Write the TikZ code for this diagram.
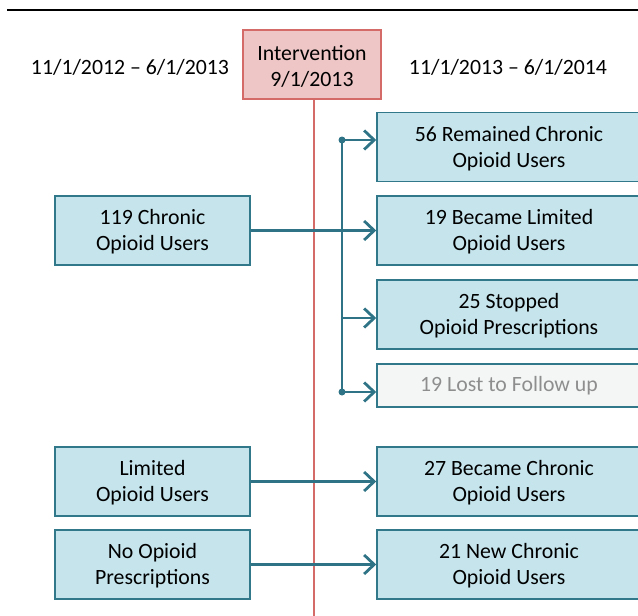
\documentclass[tikz,border=0pt]{standalone}
\usepackage{fontspec}
\setmainfont{Carlito}
\usetikzlibrary{arrows.meta}
\definecolor{boxfill}{HTML}{C5E4EC}
\definecolor{boxline}{HTML}{31798A}
\definecolor{arrowcol}{HTML}{2F7486}
\definecolor{intfill}{HTML}{EDC6C5}
\definecolor{intline}{HTML}{D46B68}
\definecolor{lostfill}{HTML}{F4F6F6}
\definecolor{losttext}{HTML}{8E8E8E}
\begin{document}
\begin{tikzpicture}[x=0.5pt, y=-0.5pt,
  every node/.style={font=\fontsize{10.9}{13}\selectfont, align=center, inner sep=0pt},
  group/.style={draw=boxline, line width=0.8pt, fill=boxfill, minimum width=97.5pt, minimum height=34.5pt},
  result/.style={group, minimum width=132pt},
  arr/.style={draw=arrowcol, line width=1.1pt, -{Straight Barb[length=5pt, width=9.5pt, line width=1.4pt]}},
  dot/.style={circle, fill=arrowcol, minimum size=3.5pt}]
\useasboundingbox (0,0) rectangle (638,616);
\clip (0,0) rectangle (638,616);
% Kopfzeile
\draw[line width=1pt] (7,10) -- (638,10);
\node (int) [draw=intline, line width=0.8pt, fill=intfill, minimum width=69pt, minimum height=34.5pt] at (312,64.5) {\strut Intervention\\9/1/2013};
\node (pre) at (130,67) {11/1/2012 -- 6/1/2013};
\node (post) at (508,67) {11/1/2013 -- 6/1/2014};
\coordinate (end) at (314,616);
\draw[intline, line width=0.8pt] (int.south -| end) -- (end);
% vorher
\node (chr) [group] at (152.5,230.5) {\strut 119 Chronic\\Opioid Users};
\node (lim) [group] at (152.5,481.5) {\strut Limited\\Opioid Users};
\node (non) [group] at (152.5,564.5) {\strut No Opioid\\Prescriptions};
% nachher
\node (rem)  [result] at (509,147)   {\strut 56 Remained Chronic\\Opioid Users};
\node (blim) [result] at (509,230.5) {\strut 19 Became Limited\\Opioid Users};
\node (stop) [result] at (509,314.5) {\strut 25 Stopped\\Opioid Prescriptions};
\node (lost) [result, fill=lostfill, text=losttext, minimum height=21.5pt] at (509,385.5) {19 Lost to Follow up};
\node (bchr) [result] at (509,481.5) {\strut 27 Became Chronic\\Opioid Users};
\node (new)  [result] at (509,564.5) {\strut 21 New Chronic\\Opioid Users};
% Verzweigung
\coordinate (top) at (342,140);
\coordinate (mid) at (342,318);
\coordinate (bot) at (342,392);
\draw[arrowcol, line width=1.1pt] (top) -- (bot);
\node[dot] at (top) {};
\node[dot] at (bot) {};
\draw[arr] (top) -- (top -| rem.west);
\draw[arr] (mid) -- (mid -| stop.west);
\draw[arr] (bot) -- (bot -| lost.west);
\draw[arr] (chr.east) -- (chr.east -| blim.west);
\draw[arr] (lim.east) -- (lim.east -| bchr.west);
\draw[arr] (non.east) -- (non.east -| new.west);
\end{tikzpicture}
\end{document}
